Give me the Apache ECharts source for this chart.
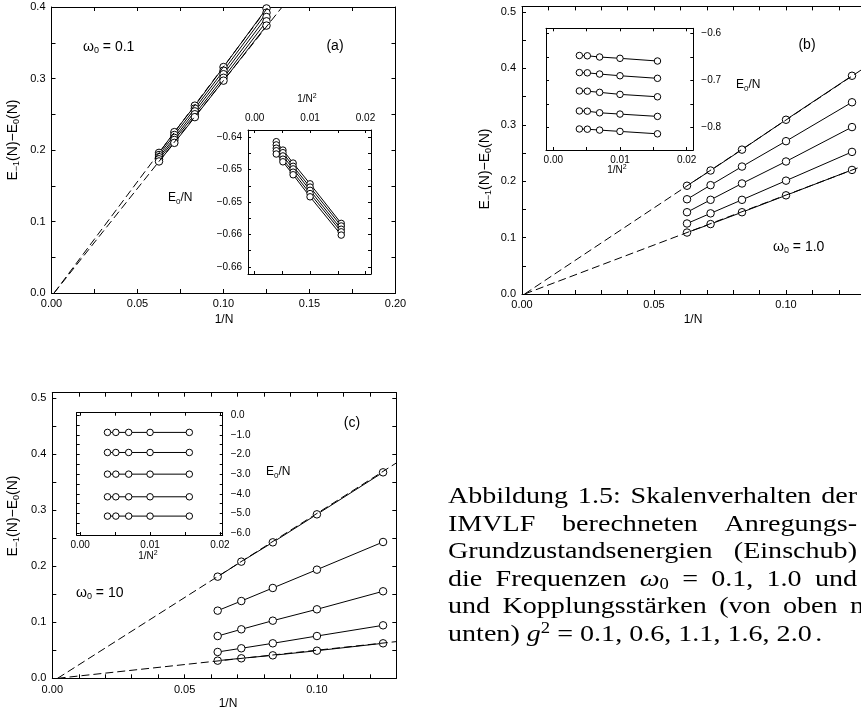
<!DOCTYPE html>
<html><head><meta charset="utf-8">
<script src="https://cdn.jsdelivr.net/npm/echarts@6/dist/echarts.min.js"></script>
<style>html,body{margin:0;padding:0;background:#fff}#c{width:861px;height:715px}</style>
</head><body><div id="c"></div>
<script>
// ---------- data ----------
const invN  = [0.0625, 0.071429, 0.083333, 0.1, 0.125];      // 1/N, N = 16,14,12,10,8
const invN2 = [0.003906, 0.005102, 0.006944, 0.01, 0.015625]; // 1/N^2
const gSquared = ['0.1', '0.6', '1.1', '1.6', '2.0'];         // top to bottom

// panel (a) omega0 = 0.1 : E_-1(N) - E_0(N)
const aG01 = [0.196, 0.225, 0.262, 0.316, 0.398];
const aG06 = [0.193, 0.221, 0.258, 0.311, 0.392];
const aG11 = [0.190, 0.217, 0.254, 0.306, 0.386];
const aG16 = [0.187, 0.214, 0.250, 0.301, 0.380];
const aG20 = [0.184, 0.210, 0.246, 0.297, 0.374];
const aFitUpper = [[0.0015, 0], [0.126, 0.4]];
const aFitLower = [[0.0015, 0], [0.1341, 0.4]];
// inset (a) E_0/N
const iaG01 = [-0.6407, -0.6420, -0.6440, -0.6472, -0.6533];
const iaG06 = [-0.6412, -0.6424, -0.6445, -0.6477, -0.6537];
const iaG11 = [-0.6417, -0.6429, -0.6449, -0.6482, -0.6542];
const iaG16 = [-0.6421, -0.6434, -0.6454, -0.6487, -0.6546];
const iaG20 = [-0.6426, -0.6438, -0.6458, -0.6492, -0.6551];

// panel (b) omega0 = 1.0
const bG01 = [0.192, 0.219, 0.256, 0.309, 0.387];
const bG06 = [0.168, 0.193, 0.226, 0.271, 0.340];
const bG11 = [0.145, 0.167, 0.196, 0.235, 0.296];
const bG16 = [0.125, 0.143, 0.167, 0.201, 0.252];
const bG20 = [0.109, 0.124, 0.145, 0.175, 0.220];
const bFitUpper = [[0.001, 0], [0.13, 0.402]];
const bFitLower = [[0.001, 0], [0.13, 0.2286]];
// inset (b)
const ibG01 = [-0.6472, -0.6478, -0.6504, -0.6532, -0.6589];
const ibG06 = [-0.6835, -0.6840, -0.6866, -0.6902, -0.6957];
const ibG11 = [-0.7225, -0.7230, -0.7255, -0.7298, -0.7349];
const ibG16 = [-0.7650, -0.7655, -0.7689, -0.7717, -0.7766];
const ibG20 = [-0.8033, -0.8038, -0.8057, -0.8085, -0.8136];

// panel (c) omega0 = 10
const cG01 = [0.1815, 0.2083, 0.2428, 0.2928, 0.3678];
const cG06 = [0.1208, 0.1380, 0.1613, 0.1940, 0.2434];
const cG11 = [0.0755, 0.0875, 0.1029, 0.1232, 0.1554];
const cG16 = [0.0470, 0.0536, 0.0625, 0.0755, 0.0946];
const cG20 = [0.0315, 0.0357, 0.0410, 0.0493, 0.0625];
const cFitUpper = [[0.002, 0], [0.13, 0.3845]];
const cFitLower = [[0.002, 0], [0.13, 0.0655]];
// inset (c)
const icG01 = [-0.88, -0.88, -0.88, -0.88, -0.88];
const icG06 = [-1.90, -1.90, -1.90, -1.90, -1.90];
const icG11 = [-3.00, -3.00, -3.00, -3.00, -3.00];
const icG16 = [-4.15, -4.15, -4.15, -4.15, -4.15];
const icG20 = [-5.13, -5.13, -5.13, -5.13, -5.13];

// tick labels
const aXTicks = ['0.00', '0.05', '0.10', '0.15', '0.20'];
const aYTicks = ['0.0', '0.1', '0.2', '0.3', '0.4'];
const bcXTicks = ['0.00', '0.05', '0.10'];
const bcYTicks = ['0.0', '0.1', '0.2', '0.3', '0.4', '0.5'];
const insetXTicks = ['0.00', '0.01', '0.02'];
const insetAYTicks = ['\u22120.66', '\u22120.66', '\u22120.65', '\u22120.65', '\u22120.64'];
const insetBYTicks = ['\u22120.8', '\u22120.7', '\u22120.6'];
const insetCYTicks = ['\u22126.0', '\u22125.0', '\u22124.0', '\u22123.0', '\u22122.0', '\u22121.0', '0.0'];

// caption: each word is a list of [text, style] pieces (n normal, i italic, s subscript, p superscript)
const captionLines = [
  {words: [[['Abbildung', 'n']], [['1.5:', 'n']], [['Skalenverhalten', 'n']], [['der', 'n']]], justify: true},
  {words: [[['IMVLF', 'n']], [['berechneten', 'n']], [['Anregungs-', 'n']]], justify: true},
  {words: [[['Grundzustandsenergien', 'n']], [['(Einschub)', 'n']]], justify: true},
  {words: [[['die', 'n']], [['Frequenzen', 'n']], [['\u03c9', 'i'], ['0', 's']], [['=', 'n']], [['0.1,', 'n']], [['1.0', 'n']], [['und', 'n']]], justify: true},
  {words: [[['und', 'n']], [['Kopplungsst\u00e4rken', 'n']], [['(von', 'n']], [['oben', 'n']], [['nach', 'n']]], justify: true, cutLastAt: 850},
  {words: [[['unten)', 'n']], [['g', 'i'], ['2', 'p']], [['=', 'n']], [['0.1,', 'n']], [['0.6,', 'n']], [['1.1,', 'n']], [['1.6,', 'n']], [['2.0', 'n']], [['.', 'n']]], justify: false}
];

// ---------- chart ----------
const FONT = 'Liberation Sans';
const SERIF = 'Liberation Serif';
function makeFmt(start, step, labels) {
  return function (v) {
    const k = (v - start) / step, r = Math.round(k);
    if (Math.abs(k - r) > 1e-6 || r < 0 || r >= labels.length) return '';
    return labels[r];
  };
}
function axis(grid, pos, cfg, withLabels) {
  const a = {
    type: 'value', gridIndex: grid, position: pos, min: cfg.min, max: cfg.max,
    splitLine: {show: false},
    axisLine: {show: true, onZero: false, lineStyle: {color: '#000', width: 1}},
    axisTick: {show: true, inside: true, length: cfg.tick, lineStyle: {color: '#000', width: 1}},
    axisLabel: withLabels ? {
      show: true, formatter: makeFmt(cfg.lstart, cfg.lstep, cfg.labels),
      fontFamily: FONT, fontSize: cfg.fs, color: '#000', margin: cfg.margin,
      showMinLabel: cfg.ends, showMaxLabel: cfg.ends
    } : {show: false}
  };
  if (cfg.interval != null) a.interval = cfg.interval;
  if (cfg.force != null) { a.minInterval = cfg.force; a.maxInterval = cfg.force; a.splitNumber = 4; }
  return a;
}

const grids = [
  {left: 51.5, top: 7, width: 344, height: 286},        // a main
  {left: 248, top: 130, width: 123, height: 144},       // a inset
  {left: 522, top: 6.4, width: 343.2, height: 287.6},   // b main
  {left: 546, top: 28.3, width: 147.3, height: 121.7},  // b inset
  {left: 52.3, top: 392.7, width: 344, height: 285.6},  // c main
  {left: 76.7, top: 412.7, width: 146, height: 122.3}   // c inset
].map(g => Object.assign({containLabel: false, outerBoundsMode: 'none'}, g));

const xCfg = [
  {min: 0, max: 0.2, interval: 0.025, tick: 4, lstart: 0, lstep: 0.05, labels: aXTicks, fs: 11, margin: 5, ends: true, pos: 'bottom'},
  {min: -0.0012, max: 0.021, force: 0.005, tick: 3, lstart: 0, lstep: 0.01, labels: insetXTicks, fs: 10, margin: 7, ends: false, pos: 'top'},
  {min: 0, max: 0.13, interval: 0.01, tick: 4, lstart: 0, lstep: 0.05, labels: bcXTicks, fs: 11, margin: 5, ends: true, pos: 'bottom'},
  {min: -0.0011, max: 0.021, force: 0.005, tick: 3, lstart: 0, lstep: 0.01, labels: insetXTicks, fs: 10, margin: 5, ends: false, pos: 'bottom'},
  {min: 0, max: 0.13, interval: 0.01, tick: 4, lstart: 0, lstep: 0.05, labels: bcXTicks, fs: 11, margin: 6, ends: true, pos: 'bottom'},
  {min: -0.0005, max: 0.0204, force: 0.005, tick: 3, lstart: 0, lstep: 0.01, labels: insetXTicks, fs: 10, margin: 5, ends: false, pos: 'bottom'}
];
const yCfg = [
  {min: 0, max: 0.4, interval: 0.05, tick: 4, lstart: 0, lstep: 0.1, labels: aYTicks, fs: 11, margin: 6, ends: true, pos: 'left'},
  {min: -0.6611, max: -0.6389, force: 0.0025, tick: 3, lstart: -0.66, lstep: 0.005, labels: insetAYTicks, fs: 10, margin: 6, ends: false, pos: 'left'},
  {min: 0, max: 0.51, interval: 0.05, tick: 4, lstart: 0, lstep: 0.1, labels: bcYTicks, fs: 11, margin: 6, ends: true, pos: 'left'},
  {min: -0.848, max: -0.5894, force: 0.05, tick: 3, lstart: -0.8, lstep: 0.1, labels: insetBYTicks, fs: 10, margin: 8, ends: false, pos: 'right'},
  {min: 0, max: 0.51, interval: 0.05, tick: 4, lstart: 0, lstep: 0.1, labels: bcYTicks, fs: 11, margin: 6, ends: true, pos: 'left'},
  {min: -6.09, max: 0.12, force: 0.5, tick: 3, lstart: -6, lstep: 1, labels: insetCYTicks, fs: 10, margin: 8, ends: false, pos: 'right'}
];
const opp = {bottom: 'top', top: 'bottom', left: 'right', right: 'left'};
const xAxes = [], yAxes = [];
for (let g = 0; g < 6; g++) {
  xAxes.push(axis(g, xCfg[g].pos, xCfg[g], true));
  xAxes.push(axis(g, opp[xCfg[g].pos], xCfg[g], false));
  yAxes.push(axis(g, yCfg[g].pos, yCfg[g], true));
  yAxes.push(axis(g, opp[yCfg[g].pos], yCfg[g], false));
}

const series = [];
function addData(g, xs, ys, size) {
  series.push({
    type: 'line', xAxisIndex: 2 * g, yAxisIndex: 2 * g,
    data: xs.map((x, i) => [x, ys[i]]),
    symbol: 'circle', symbolSize: size, showSymbol: true, showAllSymbol: true,
    itemStyle: {color: '#fff', borderColor: '#000', borderWidth: 1},
    lineStyle: {color: '#000', width: 1}, z: 2, silent: true, animation: false
  });
}
function addFit(g, pts) {
  series.push({
    type: 'line', xAxisIndex: 2 * g, yAxisIndex: 2 * g, data: pts, symbol: 'none',
    lineStyle: {color: '#000', width: 1, type: [8, 4]}, z: 3, silent: true, animation: false
  });
}
[aG01, aG06, aG11, aG16, aG20].forEach(s => addData(0, invN, s, 7.5));
[iaG01, iaG06, iaG11, iaG16, iaG20].forEach(s => addData(1, invN2, s, 6.5));
[bG01, bG06, bG11, bG16, bG20].forEach(s => addData(2, invN, s, 7.5));
[ibG01, ibG06, ibG11, ibG16, ibG20].forEach(s => addData(3, invN2, s, 6.5));
[cG01, cG06, cG11, cG16, cG20].forEach(s => addData(4, invN, s, 7.5));
[icG01, icG06, icG11, icG16, icG20].forEach(s => addData(5, invN2, s, 6.5));
addFit(0, aFitUpper); addFit(0, aFitLower);
addFit(2, bFitUpper); addFit(2, bFitLower);
addFit(4, cFitUpper); addFit(4, cFitLower);

function richStyles(size, family) {
  const sub = Math.round(size * 0.65);
  return {
    n: {fontFamily: family, fontSize: size, lineHeight: size + 3, fill: '#000'},
    i: {fontFamily: family, fontStyle: 'italic', fontSize: size, lineHeight: size + 3, fill: '#000'},
    s: {fontFamily: family, fontSize: sub, lineHeight: sub, verticalAlign: 'bottom', fill: '#000'},
    p: {fontFamily: family, fontSize: sub, lineHeight: sub, verticalAlign: 'top', fill: '#000'}
  };
}
function txt(x, y, text, size, opts) {
  opts = opts || {};
  const fam = opts.family || FONT;
  return {
    type: 'text', x: x, y: y, rotation: opts.rot || 0, scaleX: opts.sx || 1, z: 100, silent: true,
    style: {
      text: text, fill: '#000', fontFamily: fam, fontSize: size,
      align: opts.align || 'center', verticalAlign: 'middle', rich: richStyles(size, fam)
    }
  };
}
const yTitle = '{n|E}{s|\u22121}{n|(N)\u2212E}{s|0}{n|(N)}';
const graphics = [
  txt(13, 140, yTitle, 14, {rot: Math.PI / 2}),
  txt(485, 169, yTitle, 14, {rot: Math.PI / 2}),
  txt(13, 516, yTitle, 14, {rot: Math.PI / 2}),
  txt(224, 320, '{n|1/N}', 12),
  txt(693, 320, '{n|1/N}', 12),
  txt(228, 704, '{n|1/N}', 12),
  txt(335, 46, '{n|(a)}', 14),
  txt(807, 45, '{n|(b)}', 14),
  txt(352, 423, '{n|(c)}', 14),
  txt(83, 47, '{n|\u03c9}{s|0}{n| = 0.1}', 14, {align: 'left'}),
  txt(773, 247, '{n|\u03c9}{s|0}{n| = 1.0}', 14, {align: 'left'}),
  txt(76, 593, '{n|\u03c9}{s|0}{n| = 10}', 14, {align: 'left'}),
  txt(168, 198, '{n|E}{s|0}{n|/N}', 12, {align: 'left'}),
  txt(736, 85, '{n|E}{s|0}{n|/N}', 12, {align: 'left'}),
  txt(266, 472, '{n|E}{s|0}{n|/N}', 12, {align: 'left'}),
  txt(307, 99, '{n|1/N}{p|2}', 10),
  txt(617, 170, '{n|1/N}{p|2}', 10),
  txt(148, 556, '{n|1/N}{p|2}', 10)
];

// ---- caption layout (justified, measured with canvas) ----
const capX = 448, capRight = 857, capY0 = 497, capDY = 27.5, capFS = 24, capSX = 1.17;
const mctx = document.createElement('canvas').getContext('2d');
function pieceWidth(p) {
  const sub = Math.round(capFS * 0.65);
  const st = p[1];
  const size = (st === 's' || st === 'p') ? sub : capFS;
  mctx.font = (st === 'i' ? 'italic ' : '') + size + 'px "' + SERIF + '"';
  return mctx.measureText(p[0]).width * capSX;
}
function wordWidth(w) { return w.reduce((a, p) => a + pieceWidth(p), 0); }
function wordRich(w) { return w.map(p => '{' + p[1] + '|' + p[0] + '}').join(''); }
mctx.font = capFS + 'px "' + SERIF + '"';
const spaceW = mctx.measureText(' ').width * capSX;
captionLines.forEach((line, k) => {
  const y = capY0 + k * capDY;
  const widths = line.words.map(wordWidth);
  let xs = [];
  if (line.justify) {
    const n = line.words.length;
    let right = capRight;
    if (line.cutLastAt) right = line.cutLastAt + widths[n - 1];
    const total = widths.reduce((a, b) => a + b, 0);
    const gap = (right - capX - total) / (n - 1);
    let x = capX;
    for (let i = 0; i < n; i++) { xs.push(x); x += widths[i] + gap; }
  } else {
    let x = capX;
    for (let i = 0; i < line.words.length; i++) {
      xs.push(x);
      const nextIsDot = i + 1 < line.words.length && line.words[i + 1][0][0] === '.';
      x += widths[i] + (nextIsDot ? spaceW * 0.5 : spaceW);
    }
  }
  line.words.forEach((w, i) => graphics.push(txt(xs[i], y, wordRich(w), capFS, {align: 'left', family: SERIF, sx: capSX})));
});

const chart = echarts.init(document.getElementById('c'), null, {renderer: 'canvas', width: 861, height: 715});
chart.setOption({
  animation: false,
  backgroundColor: '#fff',
  grid: grids,
  xAxis: xAxes,
  yAxis: yAxes,
  series: series,
  graphic: {elements: graphics}
});
</script></body></html>
